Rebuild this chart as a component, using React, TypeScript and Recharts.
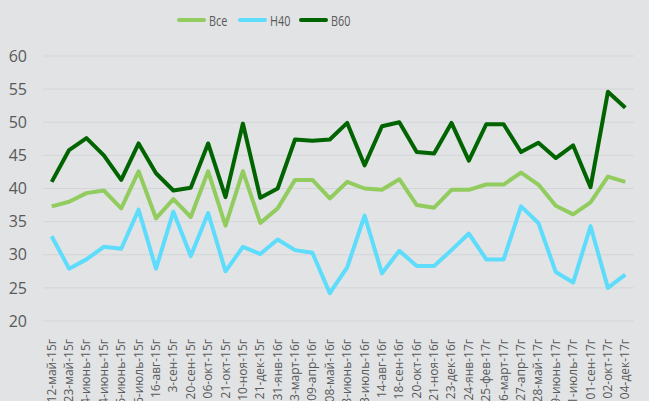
import React from "react";
import { LineChart, Line, XAxis, YAxis, CartesianGrid, Legend } from "recharts";

const categories = [
  "12-май-15г", "23-май-15г", "04-июнь-15г", "14-июнь-15г", "26-июнь-15г", "16-июль-15г",
  "16-авг-15г", "3-сен-15г", "20-сен-15г", "06-окт-15г", "21-окт-15г", "10-ноя-15г",
  "21-дек-15г", "31-янв-16г", "03-март-16г", "09-апр-16г", "08-май-16г", "08-июнь-16г",
  "03-июль-16г", "14-авг-16г", "18-сен-16г", "20-окт-16г", "21-ноя-16г", "23-дек-16г",
  "24-янв-17г", "25-фев-17г", "26-март-17г", "27-апр-17г", "28-май-17г", "29-июнь-17г",
  "31-июль-17г", "01-сен-17г", "02-окт-17г", "04-дек-17г",
];

const vse = [37.3, 38.0, 39.3, 39.7, 37.0, 42.6, 35.5, 38.4, 35.7, 42.6, 34.4, 42.6, 34.8, 37.0, 41.3, 41.3, 38.5,
  41.0, 40.0, 39.8, 41.4, 37.5, 37.1, 39.8, 39.8, 40.6, 40.6, 42.4, 40.6, 37.4, 36.1, 37.9, 41.8, 41.0];
const h40 = [32.8, 27.9, 29.3, 31.2, 30.9, 36.8, 27.9, 36.5, 29.8, 36.3, 27.5, 31.2, 30.1, 32.3, 30.7, 30.3, 24.2,
  28.1, 35.9, 27.2, 30.6, 28.3, 28.3, 30.7, 33.2, 29.3, 29.3, 37.3, 34.8, 27.4, 25.8, 34.3, 25.0, 27.0];
const b60 = [41.0, 45.8, 47.6, 45.0, 41.3, 46.8, 42.3, 39.7, 40.1, 46.8, 38.7, 49.8, 38.6, 40.0, 47.4, 47.2, 47.4,
  49.9, 43.5, 49.4, 50.0, 45.5, 45.3, 49.9, 44.2, 49.7, 49.7, 45.5, 46.9, 44.6, 46.5, 40.2, 54.6, 52.2];

const yTicks = [20, 25, 30, 35, 40, 45, 50, 55, 60];

const seriesNames = ["Все", "Н40", "В60"];
const seriesColors = ["#92cc5f", "#5ddcfb", "#006400"];

const data = categories.map((c, i) => ({ date: c, vse: vse[i], h40: h40[i], b60: b60[i] }));

const XTick = (props: any) => {
  const { x, y, payload } = props;
  const ty = y + 18;
  return (
    <text
      x={x}
      y={ty}
      dy={4}
      transform={`rotate(-90, ${x}, ${ty})`}
      textAnchor="end"
      fill="#595959"
      fontSize={12}
      fontFamily="'Open Sans', sans-serif"
    >
      {payload.value}
    </text>
  );
};

const LegendContent = () => (
  <div style={{ position: "relative", height: 20, width: 200 }}>
    {seriesNames.map((n, i) => (
      <div key={n} style={{ position: "absolute", left: i * 61, top: 0, height: 20, display: "flex", alignItems: "center" }}>
        <div style={{ width: 29, height: 4, borderRadius: 2, background: seriesColors[i], marginRight: 3 }} />
        <span
          style={{
            display: "inline-block",
            fontSize: 15,
            fontFamily: "'Open Sans', sans-serif",
            color: "#595959",
            transform: "scaleX(0.72)",
            transformOrigin: "left center",
            whiteSpace: "nowrap",
          }}
        >
          {n}
        </span>
      </div>
    ))}
  </div>
);

export default function App() {
  return (
    <div style={{ position: "absolute", left: 0, top: 0, width: 649, height: 401, background: "#e1e3e5" }}>
      <LineChart width={649} height={401} data={data} margin={{ top: 56, right: 15, bottom: 0, left: 0 }}>
        <CartesianGrid horizontal vertical={false} stroke="#d3d5d8" strokeWidth={1} />
        <XAxis
          dataKey="date"
          interval={0}
          height={80}
          axisLine={false}
          tickLine={false}
          tickSize={0}
          tickMargin={0}
          padding={{ left: 8.7, right: 8.7 }}
          tick={<XTick />}
        />
        <YAxis
          domain={[20, 60]}
          ticks={yTicks}
          width={43}
          axisLine={false}
          tickLine={false}
          tickSize={0}
          tickMargin={16}
          tick={{ fill: "#595959", fontSize: 16, fontFamily: "'Open Sans', sans-serif" }}
        />
        <Legend
          layout="horizontal"
          verticalAlign="middle"
          align="center"
          content={<LegendContent />}
          wrapperStyle={{ position: "absolute", top: 10, left: 177, width: 200, height: 20 }}
        />
        <Line dataKey="vse" name="Все" stroke={seriesColors[0]} strokeWidth={4} dot={false} isAnimationActive={false} strokeLinejoin="round" />
        <Line dataKey="h40" name="Н40" stroke={seriesColors[1]} strokeWidth={4} dot={false} isAnimationActive={false} strokeLinejoin="round" />
        <Line dataKey="b60" name="В60" stroke={seriesColors[2]} strokeWidth={4} dot={false} isAnimationActive={false} strokeLinejoin="round" />
      </LineChart>
    </div>
  );
}
